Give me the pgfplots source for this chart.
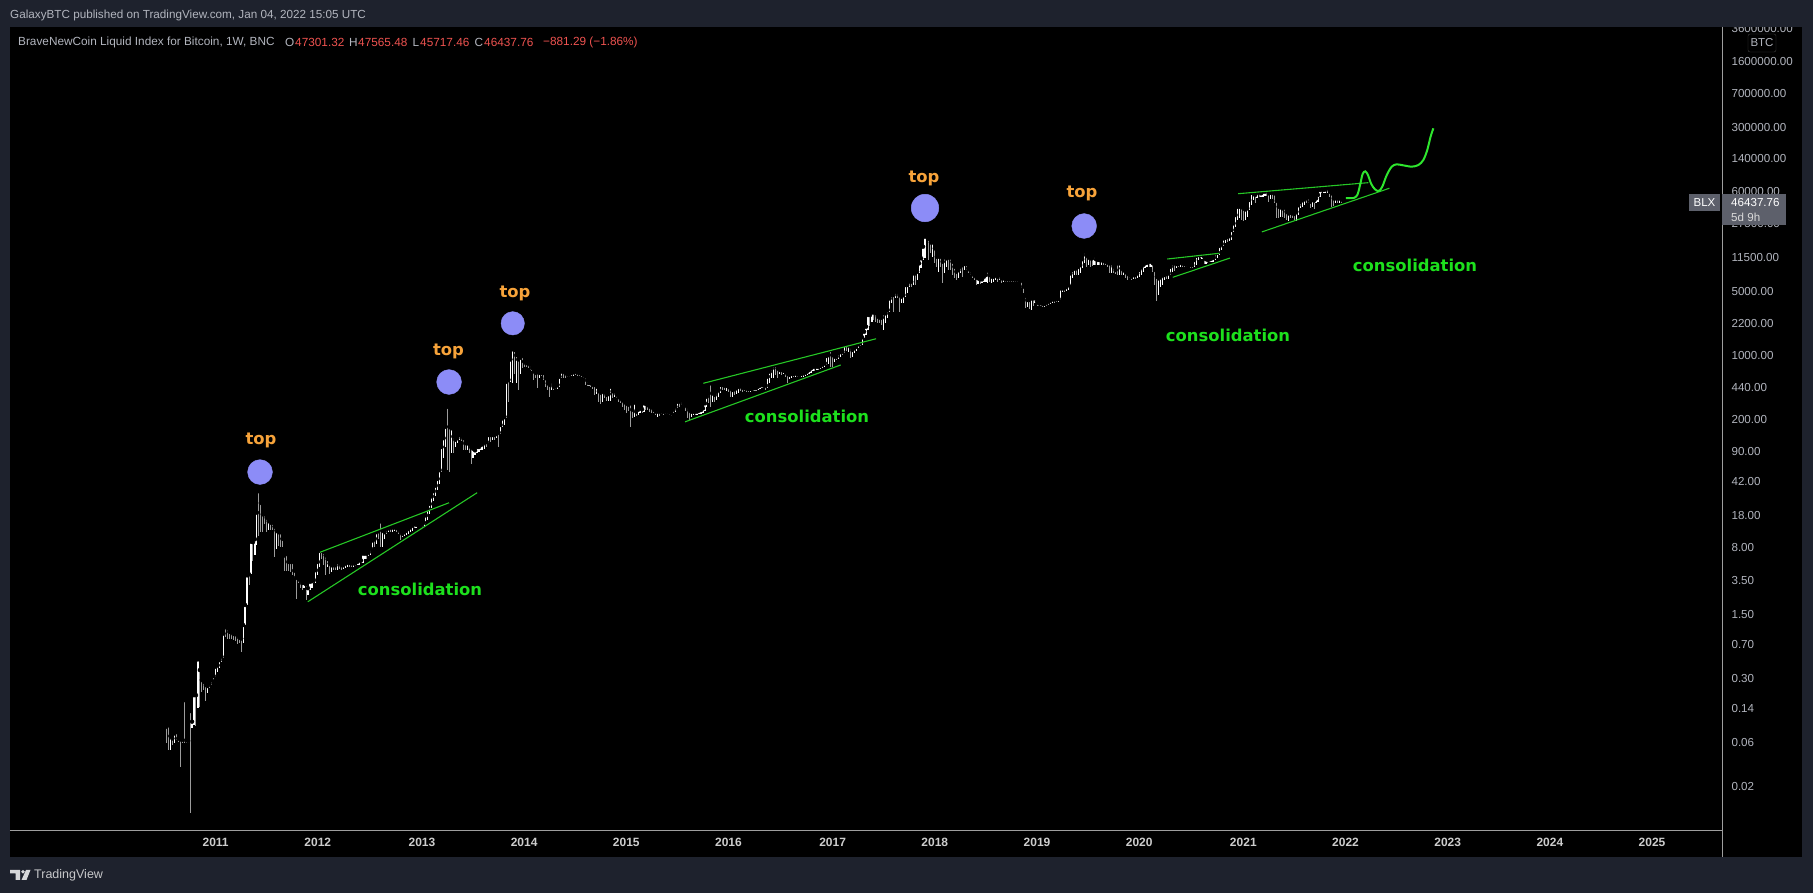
\documentclass[border=0pt]{standalone}
\usepackage{pgfplots}
\usepackage{pgfplotstable}
\usepackage{fontspec}
\pgfplotsset{compat=1.18}
\setmainfont{Liberation Sans}
\newfontfamily\notefont{DejaVu Sans}
\definecolor{pagebg}{HTML}{1E222D}
\definecolor{txt}{HTML}{B2B5BE}
\definecolor{red1}{HTML}{EF5350}
\definecolor{tag}{HTML}{5D606B}
\definecolor{barup}{HTML}{FFFFFF}
\definecolor{bardn}{HTML}{9C9C9C}
\definecolor{grn}{HTML}{26C726}
\definecolor{curve}{HTML}{2EE62E}
\definecolor{lab}{HTML}{1DE01D}
\definecolor{org}{HTML}{F7A33A}
\definecolor{dot}{HTML}{8C8CF7}
% weekly bars: low, high, u=1 white / u=0 grey; bar number = row number + offset
\pgfplotstableread[row sep=\\]{
l h u\\
.060 .090 0\\ .050 .0935 0\\ .050 .071 1\\ .0568 .067 0\\ .059 .076 1\\ .0643 .0786 0\\ .0608 .067 0\\ .0329 .0653 0\\
.060 .065 0\\ .060 .175 0\\ .060 .064 0\\ .060 .063 0\\ .0104 .133 0\\ .086 .102 1\\ .0935 .198 1\\ .0905 .198 0\\
.142 .486 1\\ .148 .372 0\\ .216 .29 0\\ .225 .277 0\\ .172 .255 0\\ .207 .249 1\\ .235 .266 1\\ .255 .29 1\\
.29 .32 1\\ .315 .405 1\\ .356 .42 1\\ .388 .477 1\\ .45 .52 1\\ .50 .93 1\\ .86 1.10 0\\ .82 1.06 0\\
.82 .97 0\\ .82 .97 0\\ .79 .92 0\\ .78 .92 0\\ .71 .895 0\\ .726 .843 0\\ .59 .82 0\\ .73 1.15 1\\
1.15 1.9 1\\ 1.9 4.0 1\\ 3.1 4.1 0\\ 4.1 9.3 1\\ 5.8 9.2 0\\ 6.7 9.9 1\\ 8.6 19.3 1\\ 10.8 33 0\\
11.8 24.6 0\\ 12 18.5 0\\ 14.5 18.5 0\\ 11.8 17 0\\ 12.5 15.6 1\\ 12.5 15 0\\ 12.5 15 0\\ 6.3 13.6 0\\
7.8 12.3 1\\ 8.4 11.8 0\\ 8.1 11.8 0\\ 8.1 10 0\\ 4.5 6.6 0\\ 4.5 6.9 0\\ 4.5 5.6 0\\ 4.3 5.6 0\\
4 5.6 0\\ 3.7 4.5 0\\ 2.2 3.8 0\\ 3.3 3.7 0\\ 2.9 3.55 0\\ 2.77 3.3 0\\ 2.9 3.3 1\\ 2.15 3.2 0\\
2.45 2.9 1\\ 2.77 3.4 1\\ 2.9 3.45 1\\ 3.3 3.55 0\\ 3.3 4.55 1\\ 4 5.6 1\\ 4.9 7.4 1\\ 6 7.4 0\\
5.15 7.2 0\\ 4 6.6 0\\ 4.9 6 1\\ 4.1 5.4 0\\ 4.35 5.15 1\\ 4.55 5.15 0\\ 4.55 5.15 0\\ 4.55 5.6 1\\
4.7 5.5 0\\ 4.55 5.15 0\\ 4.7 5.15 1\\ 4.8 5.4 1\\ 4.9 5.5 1\\ 4.9 5.5 0\\ 4.9 5.4 0\\ 4.9 5.4 1\\
5 5.4 0\\ 5.15 5.6 1\\ 5.15 5.8 1\\ 5.4 5.8 0\\ 5.5 6.9 1\\ 6 6.9 1\\ 6.1 6.9 0\\ 6.5 7.2 1\\
6.7 7.8 1\\ 7.8 9.6 1\\ 8.1 10 0\\ 8.8 11.8 1\\ 10 12.3 0\\ 8.1 15.5 0\\ 8.1 12.3 1\\ 10 11.8 1\\
11.3 12.8 1\\ 11.8 13 1\\ 11.8 13.3 0\\ 12 13.3 1\\ 12.3 13.3 1\\ 11.8 13.2 0\\ 11.3 12.8 0\\ 9.6 12 0\\
10.4 11.3 1\\ 10.8 11.8 1\\ 11 12.3 1\\ 11.3 12.8 1\\ 11.8 13.3 1\\ 12.3 13.9 1\\ 13.1 14.5 0\\ 13.1 14.2 1\\
13.5 14.2 0\\ 13.5 13.9 1\\ 13.5 14.2 1\\ 13.8 15 1\\ 14.5 18 1\\ 16 21 1\\ 18.5 24 1\\ 21.5 29 1\\
26 33 1\\ 29 38 1\\ 34 45 1\\ 40 56 1\\
}\tabA
\pgfplotstableread[row sep=\\]{
l h u\\
54 100 1\\ 75 125 1\\ 100 166 1\\ 56 275 0\\ 53 166 0\\ 85 160 1\\ 85 130 0\\ 101 120 1\\
110 125 1\\ 120 135 1\\ 117 133 0\\ 92 125 0\\ 92 110 0\\ 92 110 1\\ 85 108 0\\ 66 100 0\\
75 96 1\\ 81 92 1\\ 85 100 1\\ 89 100 1\\ 92 105 1\\ 93 108 1\\ 96 113 1\\ 100 113 0\\
110 135 1\\ 113 135 0\\ 120 135 1\\ 120 135 0\\ 125 140 1\\ 100 144 0\\ 140 174 1\\ 166 205 1\\
174 214 1\\ 205 515 1\\ 312 540 0\\ 515 900 1\\ 495 1163 1\\ 630 1140 0\\ 495 1000 1\\ 420 900 0\\
630 940 1\\ 725 985 0\\ 750 853 0\\ 750 820 0\\ 725 820 0\\ 691 790 0\\ 665 725 0\\ 535 665 0\\
561 640 0\\ 435 665 0\\ 561 640 1\\ 590 640 0\\ 535 640 0\\ 455 561 0\\ 420 495 0\\ 350 475 0\\
420 515 1\\ 420 455 0\\ 425 455 1\\ 425 475 1\\ 450 585 1\\ 561 665 1\\ 561 665 0\\ 561 640 0\\
580 615 1\\ 580 615 0\\ 590 640 1\\ 600 650 1\\ 615 665 0\\ 600 650 0\\ 590 640 0\\ 580 630 0\\
561 615 0\\ 475 590 0\\ 460 535 0\\ 460 495 1\\ 455 495 0\\ 425 475 0\\ 369 475 0\\ 375 455 1\\
312 405 0\\ 295 390 0\\ 312 405 1\\ 340 395 0\\ 318 369 0\\ 318 378 1\\ 318 455 1\\ 345 405 0\\
350 405 1\\ 345 378 0\\ 312 353 0\\ 299 340 0\\ 275 325 0\\ 255 312 0\\ 232 299 0\\ 245 290 0\\
167 299 0\\ 205 255 0\\ 214 305 1\\ 218 243 0\\ 225 255 1\\ 232 265 1\\ 232 258 0\\ 243 299 1\\
255 295 0\\ 255 285 0\\ 243 275 0\\ 237 270 0\\ 232 255 0\\ 225 243 0\\ 214 243 1\\ 219 243 0\\
228 243 1\\ 225 243 0\\ 228 243 1\\ 226 243 0\\ 225 239 0\\ 218 232 0\\ 232 255 1\\ 243 275 1\\
265 312 1\\ 270 312 0\\
}\tabB
\pgfplotstableread[row sep=\\]{
l h u\\
287 322 0\\ 281 296 0\\ 249 287 0\\ 205 275 0\\ 197 253 0\\ 214 243 1\\ 223 243 1\\ 223 243 0\\
223 243 1\\ 229 249 1\\ 229 253 1\\ 237 264 1\\ 249 299 1\\ 275 354 1\\ 299 384 0\\ 275 494 0\\
312 384 1\\ 312 369 0\\ 325 400 1\\ 354 418 1\\ 384 474 1\\ 418 474 0\\ 418 465 0\\ 410 465 1\\
400 454 0\\ 354 436 0\\ 354 418 1\\ 369 425 0\\ 378 436 1\\ 390 454 1\\ 410 465 0\\ 400 445 0\\
408 436 1\\ 400 436 0\\ 400 428 0\\ 400 428 1\\ 405 430 0\\ 408 436 1\\ 410 436 1\\ 418 454 1\\
424 465 1\\ 436 474 1\\ 436 465 0\\ 418 465 0\\ 436 584 1\\ 494 662 1\\ 560 720 1\\ 560 782 1\\
610 782 0\\ 560 720 0\\ 625 690 1\\ 610 690 0\\ 625 680 1\\ 584 662 0\\ 494 625 0\\ 548 610 1\\
560 625 1\\ 572 625 0\\ 572 635 1\\ 584 620 0\\ 572 610 0\\ 584 625 1\\ 584 635 1\\ 595 645 1\\
610 662 1\\ 625 690 1\\ 645 720 1\\ 680 750 1\\ 680 750 0\\ 690 750 1\\ 690 750 0\\ 705 770 1\\
720 800 1\\ 750 815 1\\ 780 980 1\\ 800 1005 1\\ 750 1139 0\\ 750 1005 0\\ 850 964 1\\ 886 964 0\\
900 1048 1\\ 964 1090 1\\ 1005 1090 0\\ 1048 1290 1\\ 1110 1290 0\\ 1090 1290 1\\ 925 1238 0\\ 964 1139 1\\
1048 1190 1\\ 1120 1238 1\\ 1190 1320 1\\ 1260 1346 1\\ 1290 1565 1\\ 1520 1800 1\\ 1660 2045 1\\ 1881 2740 1\\
2080 2740 0\\ 2320 2920 1\\ 2417 2920 0\\ 2320 2860 0\\ 2223 2630 0\\ 2260 2570 0\\ 2130 2570 0\\ 1881 2860 1\\
2223 2860 1\\ 2520 3110 1\\ 2980 4160 1\\ 3670 4530 1\\ 2980 4530 0\\ 4160 4920 1\\ 4160 4920 0\\ 2980 4530 0\\
3670 4340 1\\ 3670 4530 1\\ 4340 5820 1\\ 4720 5820 1\\ 5575 6320 1\\ 5575 6320 0\\ 5820 7790 1\\ 5820 7790 0\\
6590 8130 1\\ 7900 10010 1\\ 8830 11350 1\\ 11000 15200 1\\ 11350 19530 1\\
}\tabC
\pgfplotstableread[row sep=\\]{
l h u\\
10880 18600 0\\ 12860 16900 0\\ 11830 16900 1\\ 10010 14600 0\\ 9200 11830 0\\ 8130 11830 1\\ 9200 11830 0\\ 6060 10450 0\\
7790 11620 1\\ 9200 11350 1\\ 8470 11620 0\\ 8470 11620 0\\ 7470 10450 0\\ 6880 9200 0\\ 6590 8130 0\\ 6880 8470 1\\
7790 9200 1\\ 7160 9600 0\\ 8470 9850 1\\ 8470 9850 0\\ 7790 8830 0\\ 7470 8470 0\\ 6880 7790 0\\ 6590 7470 0\\
5820 7160 0\\ 5950 6880 1\\ 5950 6700 0\\ 6060 6700 1\\ 6320 7160 1\\ 6320 7470 1\\ 6060 8320 1\\ 6320 7470 0\\
6060 7160 1\\ 6320 7160 1\\ 6590 7470 1\\ 6200 7160 0\\ 6590 7470 1\\ 6060 6880 0\\ 6200 6880 1\\ 6200 6700 0\\
6200 6700 1\\ 6200 6700 0\\ 6320 6700 1\\ 6250 6700 1\\ 6200 6700 0\\ 6200 6700 0\\ 6200 6590 0\\ 5350 6480 0\\
4720 5575 0\\ 3240 4420 0\\ 3380 3990 1\\ 3160 3990 0\\ 3110 4160 1\\ 3440 4160 0\\ 3670 4160 1\\ 3440 3830 0\\
3440 3670 0\\ 3440 3670 1\\ 3320 3610 0\\ 3320 3610 1\\ 3440 3830 1\\ 3520 3830 0\\ 3610 3990 1\\ 3670 4060 1\\
3670 4060 0\\ 3760 4060 1\\ 3830 4090 1\\ 3990 5350 1\\ 4920 5350 1\\ 4920 5350 0\\ 5040 5575 1\\ 5130 5820 1\\
5820 7790 1\\ 6880 8470 1\\ 7470 8830 1\\ 7470 8830 0\\ 7470 9200 1\\ 7790 9600 1\\ 8830 11100 1\\ 10010 13400 1\\
9200 12340 0\\ 9600 11830 1\\ 9200 11350 0\\ 9350 11350 0\\ 9600 12060 1\\ 9600 11100 0\\ 9600 10880 1\\ 9600 10880 0\\
9700 10800 1\\ 9600 10650 0\\ 9600 10450 0\\ 9200 10200 0\\ 7790 10010 0\\ 7790 10010 1\\ 7790 9200 0\\ 7660 8470 0\\
7470 10010 0\\ 7470 10010 1\\ 7470 8830 0\\ 7470 8470 1\\ 6880 8130 0\\ 6590 7790 0\\ 6880 7470 0\\ 6590 7160 0\\
6700 7470 1\\ 6700 7470 0\\ 6880 7790 1\\ 7160 8470 1\\ 7470 9040 1\\ 8130 9600 1\\ 8830 10010 1\\ 9200 10200 1\\
9200 10450 0\\ 9200 10450 1\\ 8130 10010 0\\ 5820 8470 0\\ 3920 7160 0\\
}\tabD
\pgfplotstableread[row sep=\\]{
l h u\\
4530 6870 1\\ 5575 7160 1\\ 5820 7470 1\\ 6590 7470 1\\ 6700 7660 0\\ 6700 7790 1\\ 7470 9200 1\\ 8130 10010 1\\
8330 10010 0\\ 8830 9840 1\\ 9040 9840 0\\ 9040 10250 1\\ 9040 10010 0\\ 9200 9840 0\\ 9040 9700 0\\ 9040 9600 0\\
8970 9600 0\\ 8830 9600 0\\ 9040 10880 1\\ 9600 12060 1\\ 10880 12300 1\\ 11350 12300 0\\ 11100 12300 1\\ 9780 11830 0\\
9900 11100 1\\ 10010 10880 0\\ 10250 11100 1\\ 10250 11350 1\\ 10450 11620 1\\ 10880 12860 1\\ 11350 13120 1\\ 12340 15500 1\\
13980 16250 1\\ 15500 18730 1\\ 16530 19100 1\\ 17190 19530 0\\ 17690 19800 1\\ 17970 23100 1\\ 22150 27300 1\\ 25110 33650 1\\
29680 41480 1\\ 30920 41480 1\\ 29680 41480 0\\ 29100 39800 0\\ 29680 38800 1\\ 32270 39800 1\\ 38140 49030 1\\ 43200 58900 1\\
49030 57950 1\\ 45100 55600 0\\ 51100 58900 1\\ 52400 60500 0\\ 53300 57950 1\\ 53300 60500 1\\ 54000 60500 1\\ 54000 64200 0\\
47000 57950 0\\ 49800 58900 1\\ 49800 58900 0\\ 45100 57950 0\\ 30900 48000 0\\
}\tabE
\pgfplotstableread[row sep=\\]{
l h u\\
30920 41480 0\\ 32270 40800 1\\ 32270 39800 0\\ 30920 40800 0\\ 29680 36500 0\\ 29100 35080 1\\ 30920 35700 0\\ 30920 35080 0\\
29680 34500 0\\ 29100 36500 1\\ 33650 43000 1\\ 39800 46500 1\\ 41480 49030 1\\ 43200 49800 1\\ 45100 51100 0\\ 45800 52200 1\\
39800 47000 0\\ 41480 49030 1\\ 39000 48300 0\\ 45100 51100 1\\ 47000 55600 1\\ 52400 63000 1\\ 57950 64200 0\\ 58900 63000 1\\
58900 64200 1\\ 57950 66800 1\\ 52400 60500 0\\ 41480 57950 0\\ 42100 51100 0\\ 45100 51100 1\\ 45800 51100 0\\ 45800 51100 1\\
45100 50000 0\\ 45700 47600 0\\
}\tabF
\pgfplotsset{
  barstyle/.style 2 args={only marks,mark=none,forget plot,
    error bars/.cd,y dir=minus,y explicit,error mark=none,
    error bar style={line width=#1,color=#2}}
}
\newcommand\bars[2]{%
  \addplot[barstyle={1pt}{bardn}] table[x expr=\coordindex+#2,
     y expr={\thisrow{u}==0?\thisrow{h}:nan},y error minus expr={\thisrow{h}-\thisrow{l}}] {#1};
  \addplot[barstyle={1.2pt}{barup}] table[x expr=\coordindex+#2,
     y expr={\thisrow{u}==1?\thisrow{h}:nan},y error minus expr={\thisrow{h}-\thisrow{l}}] {#1};
}
\begin{document}
\begin{tikzpicture}[x=1pt,y=1pt]
\useasboundingbox (0,0) rectangle (1813,893);
\fill[pagebg] (0,0) rectangle (1813,893);
\fill[black] (10,36) rectangle (1802,866);
\begin{axis}[
  at={(10pt,866pt)},anchor=north west,
  scale only axis,width=1712pt,height=803pt,
  ymode=log,
  xmin=-79.64,xmax=791.6,ymin=0.00673,ymax=3758000,
  axis x line*=bottom,axis y line*=right,
  axis line style={draw=white!62!black,line width=.9pt},
  major tick length=0pt,minor tick length=0pt,
  minor y tick num=0,
  unbounded coords=discard,
  xtick={25,77,130,182,234,286,339,391,443,495,548,600,652,704,756},
  xticklabels={2011,2012,2013,2014,2015,2016,2017,2018,2019,2020,2021,2022,2023,2024,2025},
  x tick label style={font=\fontsize{12}{14}\selectfont\bfseries,text=white!80!black,yshift=-5pt},
  ytick={3600000,1600000,700000,300000,140000,60000,27500,11500,5000,2200,1000,440,200,90,42,18,8,3.5,1.5,0.7,0.3,0.14,0.06,0.02},
  yticklabels={3600000.00,1600000.00,700000.00,300000.00,140000.00,60000.00,27500.00,11500.00,5000.00,2200.00,1000.00,440.00,200.00,90.00,42.00,18.00,8.00,3.50,1.50,0.70,0.30,0.14,0.06,0.02},
  y tick label style={font=\fontsize{11.6}{14}\selectfont,text=txt,anchor=west,xshift=6pt},
]
\bars{\tabA}{0}
\bars{\tabB}{140}
\bars{\tabC}{262}
\bars{\tabD}{388}
\bars{\tabE}{505}
\bars{\tabF}{566}
\end{axis}
% second axis on the same scales: drawings that lie over the bars
\begin{axis}[
  at={(10pt,866pt)},anchor=north west,
  scale only axis,width=1712pt,height=803pt,
  ymode=log,
  xmin=-79.64,xmax=791.6,ymin=0.00673,ymax=3758000,
  hide axis]
% trend lines
\addplot[grn,line width=1.1pt] coordinates {(78.1,7.13)(143.8,24.7)};
\addplot[grn,line width=1.1pt] coordinates {(71.9,2.06)(158.1,31.8)};
\addplot[grn,line width=1.1pt] coordinates {(273.2,494)(361.1,1510)};
\addplot[grn,line width=1.1pt] coordinates {(263.9,188)(343.1,782)};
\addplot[grn,line width=1.1pt] coordinates {(509.3,11160)(535.8,12880)};
\addplot[grn,line width=1.1pt] coordinates {(512.1,7050)(541.2,11430)};
\addplot[grn,line width=1.1pt] coordinates {(545.3,57400)(611.6,75700)};
\addplot[grn,line width=1.1pt] coordinates {(557.4,22000)(622.3,65800)};
% projected path
\addplot[curve,line width=2pt,smooth,tension=.5] coordinates {
(600.2,51470)(604,51470)(606,55570)(607.4,71400)(608.7,94100)(610.1,100600)(611.4,91800)(613.1,73200)
(615,64050)(616.9,61400)(618.7,68460)(621,91800)(623.5,113100)(626,119900)(629.4,116900)(633.7,113100)
(637.1,117900)(639.6,133700)(641.6,171800)(643.3,240000)(644.7,295800)};
% tops
\addplot[only marks,mark=*,mark size=12.4pt,color=dot] coordinates {(47.6,53.3)(143.8,510)(467,25530)};
\addplot[only marks,mark=*,mark size=11.7pt,color=dot] coordinates {(176.2,2223)};
\addplot[only marks,mark=*,mark size=13.8pt,color=dot] coordinates {(386,40100)};
\end{axis}
% clip the top tick label at the pane edge
\fill[pagebg] (0,866) rectangle (1813,893);
\draw[white!62!black,line width=.9pt] (1722,866) -- (1722,36);
% header
\node[anchor=west,inner sep=0pt,text=txt,font=\fontsize{11.7}{13}\selectfont] at (10,878) {GalaxyBTC published on TradingView.com, Jan 04, 2022 15:05 UTC};
\begin{scope}[every node/.style={anchor=west,inner sep=0pt,font=\fontsize{11.8}{13}\selectfont}]
\node[text=txt] at (18,851) {BraveNewCoin Liquid Index for Bitcoin, 1W, BNC};
\node[text=txt] at (285,851) {O}; \node[text=red1] at (295,851) {47301.32};
\node[text=txt] at (349,851) {H}; \node[text=red1] at (358,851) {47565.48};
\node[text=txt] at (412.5,851) {L}; \node[text=red1] at (420,851) {45717.46};
\node[text=txt] at (474.5,851) {C}; \node[text=red1] at (484,851) {46437.76};
\node[text=red1] at (543,851) {−881.29 (−1.86\%)};
\end{scope}
% scale tags
\draw[fill=black,draw=white!25!black,rounded corners=2pt] (1748,893-52) rectangle (1776,893-34);
\node[text=txt,font=\fontsize{11.5}{13}\selectfont] at (1762,893-43) {BTC};
\fill[tag] (1689,893-211) rectangle (1720,893-194);
\node[text=white,font=\fontsize{11.5}{13}\selectfont] at (1704.5,893-202.5) {BLX};
\fill[tag] (1722,893-225) rectangle (1786,893-194);
\node[anchor=west,inner sep=0pt,text=white,font=\fontsize{11.6}{13}\selectfont] at (1731,893-203) {46437.76};
\node[anchor=west,inner sep=0pt,text=white!85!black,font=\fontsize{11.6}{13}\selectfont] at (1731,893-217) {5d 9h};
% annotations
\begin{scope}[every node/.style={font=\notefont\bfseries\fontsize{16.4}{18}\selectfont,inner sep=0pt}]
\node[text=org] at (261,893-440) {top};
\node[text=org] at (448.5,893-351) {top};
\node[text=org] at (515,893-293) {top};
\node[text=org] at (924,893-178) {top};
\node[text=org] at (1082,893-193) {top};
\node[text=lab] at (420,893-589) {consolidation};
\node[text=lab] at (807,893-416) {consolidation};
\node[text=lab] at (1228,893-335) {consolidation};
\node[text=lab] at (1415,893-265) {consolidation};
\end{scope}
% footer logo
\fill[white!82!pagebg] (10,23) -- (20,23) -- (20,13) -- (15.5,13) -- (15.5,19.5) -- (10,19.5) -- cycle;
\fill[white!82!pagebg] (23,21.2) circle (1.9);
\fill[white!82!pagebg] (26,23) -- (30.5,23) -- (26.5,13) -- (21.5,13) -- cycle;
\node[anchor=west,inner sep=0pt,text=white!75!pagebg,font=\fontsize{12.5}{14}\selectfont] at (34,18) {TradingView};
\end{tikzpicture}
\end{document}
